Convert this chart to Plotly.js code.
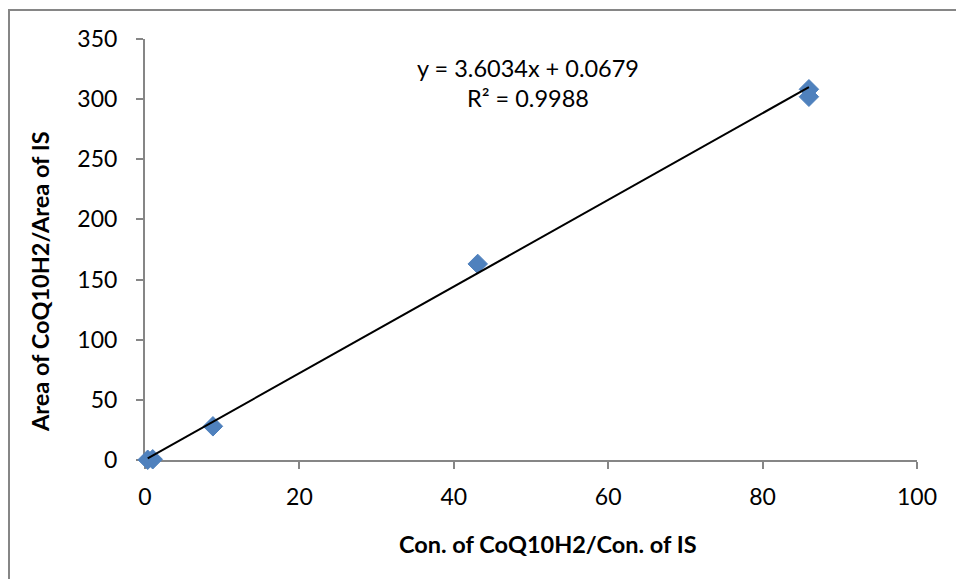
<!DOCTYPE html>
<html>
<head>
<meta charset="utf-8">
<script src="https://cdn.plot.ly/plotly-3.0.1.min.js"></script>
<style>
  html, body { margin: 0; padding: 0; background: #ffffff; }
  #chart { width: 956px; height: 579px; }
</style>
</head>
<body>
<div id="chart"></div>
<script>
// Data
const concRatio = [0.35, 1.0, 8.8, 43.1, 86.0, 86.0];
const areaRatio = [0.2, 0.6, 28.0, 163.0, 308.2, 302.0];
const slope = 3.6034;
const intercept = 0.0679;
const rSquared = 0.9988;
const xTicks = [0, 20, 40, 60, 80, 100];
const yTicks = [0, 50, 100, 150, 200, 250, 300, 350];
const xTitle = 'Con. of CoQ10H2/Con. of IS';
const yTitle = 'Area of CoQ10H2/Area of IS';

const FONT = 'Lato, "Open Sans", "Liberation Sans", sans-serif';
const xMin = Math.min(...concRatio), xMax = Math.max(...concRatio);
const trendX = [xMin, xMax];
const trendY = trendX.map(x => slope * x + intercept);

const traces = [
  {
    x: concRatio, y: areaRatio, type: 'scatter', mode: 'markers',
    cliponaxis: false,
    marker: { symbol: 'diamond', size: 15, color: '#4F81BD',
              line: { color: '#4F81BD', width: 1 } },
    hoverinfo: 'x+y', showlegend: false
  },
  {
    x: trendX, y: trendY, type: 'scatter', mode: 'lines',
    cliponaxis: false,
    line: { color: '#000000', width: 2 },
    hoverinfo: 'skip', showlegend: false
  }
];

const axisCommon = {
  showgrid: false, zeroline: false, showline: true,
  linecolor: '#868686', linewidth: 2,
  ticks: 'outside', ticklen: 7, tickwidth: 2, tickcolor: '#868686',
  tickfont: { family: FONT, size: 23, color: '#000000' },
  layer: 'below traces',
  fixedrange: true
};

const layout = {
  width: 956, height: 579,
  margin: { l: 145, r: 39, t: 39, b: 119 },
  paper_bgcolor: '#ffffff', plot_bgcolor: '#ffffff',
  xaxis: Object.assign({}, axisCommon, {
    range: [0, 100], tickvals: xTicks, ticktext: xTicks.map(String),
    ticklabelstandoff: 8
  }),
  yaxis: Object.assign({}, axisCommon, {
    range: [0, 350], tickvals: yTicks, ticktext: yTicks.map(String),
    ticklabelstandoff: 14
  }),
  annotations: [
    {
      xref: 'paper', yref: 'paper', x: (548 - 145) / 772, y: (460 - 544) / 421,
      text: '<b>' + xTitle + '</b>', showarrow: false,
      font: { family: FONT, size: 23.5, color: '#000000' },
      xanchor: 'center', yanchor: 'middle'
    },
    {
      xref: 'paper', yref: 'paper', x: (40 - 145) / 772, y: (460 - 281) / 421,
      text: '<b>' + yTitle + '</b>', showarrow: false, textangle: -90,
      font: { family: FONT, size: 23.5, color: '#000000' },
      xanchor: 'center', yanchor: 'middle'
    },
    {
      xref: 'paper', yref: 'paper', x: (528 - 145) / 772, y: (460 - 68) / 421,
      text: 'y = ' + slope.toFixed(4) + 'x + ' + intercept.toFixed(4),
      showarrow: false, font: { family: FONT, size: 23.5, color: '#000000' },
      xanchor: 'center', yanchor: 'middle'
    },
    {
      xref: 'paper', yref: 'paper', x: (528 - 145) / 772, y: (460 - 98) / 421,
      text: 'R² = ' + rSquared.toFixed(4),
      showarrow: false, font: { family: FONT, size: 23.5, color: '#000000' },
      xanchor: 'center', yanchor: 'middle'
    }
  ],
  shapes: [
    {
      type: 'rect', xref: 'paper', yref: 'paper',
      x0: (9 - 145) / 772, x1: (970 - 145) / 772,
      y0: (460 - 600) / 421, y1: (460 - 10) / 421,
      line: { color: '#868686', width: 2 }, fillcolor: 'rgba(0,0,0,0)',
      layer: 'below'
    }
  ]
};

Plotly.newPlot('chart', traces, layout, { displayModeBar: false, staticPlot: true });
</script>
</body>
</html>
